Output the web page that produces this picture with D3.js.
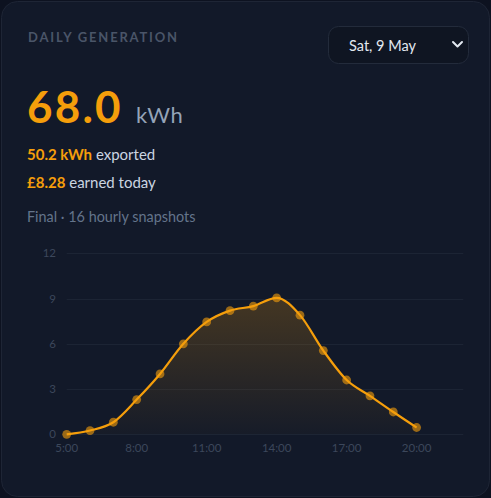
<!DOCTYPE html>
<html>
<head>
<meta charset="utf-8">
<script src="https://cdn.jsdelivr.net/npm/d3@7"></script>
<style>
  html, body { margin: 0; padding: 0; background: #0d1220; }
  svg { display: block; font-family: Lato, "Noto Sans", sans-serif; }
</style>
</head>
<body>
<div id="content"></div>
<script>
// hourly snapshots (hour of day, kWh)
var hours = [5, 6, 7, 8, 9, 10, 11, 12, 13, 14, 15, 16, 17, 18, 19, 20];
var kwh = [0, 0.25, 0.8, 2.3, 4.0, 6.0, 7.45, 8.2, 8.5, 9.05, 7.9, 5.55, 3.6, 2.55, 1.48, 0.45];
var yTicks = [0, 3, 6, 9, 12];
var xTicks = [5, 8, 11, 14, 17, 20];

var title = 'DAILY GENERATION';
var dateLabel = 'Sat, 9 May';
var total = '68.0';
var unit = 'kWh';
var exported = '50.2 kWh';
var earned = '£8.28';
var note = 'Final · 16 hourly snapshots';

var W = 491, H = 498;
var orange = '#f59e0b';

var svg = d3.select('#content').append('svg')
    .attr('width', W)
    .attr('height', H);

// card
svg.append('rect')
    .attr('x', 1.5).attr('y', 1.5)
    .attr('width', W - 3).attr('height', H - 3)
    .attr('rx', 16)
    .attr('fill', '#121929')
    .attr('stroke', '#1e2535');

// header
svg.append('text')
    .attr('x', 28).attr('y', 42)
    .attr('fill', '#4a5568')
    .style('font-size', '13px')
    .style('font-weight', 700)
    .style('letter-spacing', '1.8px')
    .text(title);

// date select
svg.append('rect')
    .attr('x', 328.5).attr('y', 26.5)
    .attr('width', 140).attr('height', 37)
    .attr('rx', 10)
    .attr('fill', '#0f1522')
    .attr('stroke', '#232b3b');
svg.append('text')
    .attr('x', 349).attr('y', 51)
    .attr('fill', '#e2e8f0')
    .style('font-size', '14.5px')
    .text(dateLabel);
svg.append('path')
    .attr('d', 'M453,42 L457.5,46.5 L462,42')
    .attr('fill', 'none')
    .attr('stroke', '#e2e8f0')
    .attr('stroke-width', 2)
    .attr('stroke-linecap', 'round')
    .attr('stroke-linejoin', 'round');

// big number
svg.append('text')
    .attr('x', 27).attr('y', 123)
    .attr('fill', orange)
    .style('font-size', '44px')
    .style('font-weight', 700)
    .style('letter-spacing', '2.2px')
    .text(total);
svg.append('text')
    .attr('x', 136).attr('y', 123)
    .attr('fill', '#94a3b8')
    .style('font-size', '22px')
    .style('letter-spacing', '0.5px')
    .text(unit);

var line1 = svg.append('text')
    .attr('x', 27).attr('y', 160)
    .style('font-size', '15px');
line1.append('tspan').attr('fill', orange).style('font-weight', 700).text(exported);
line1.append('tspan').attr('fill', '#cbd5e1').text(' exported');

var line2 = svg.append('text')
    .attr('x', 27).attr('y', 188)
    .style('font-size', '15px');
line2.append('tspan').attr('fill', orange).style('font-weight', 700).text(earned);
line2.append('tspan').attr('fill', '#cbd5e1').text(' earned today');

svg.append('text')
    .attr('x', 27).attr('y', 222)
    .attr('fill', '#64748b')
    .style('font-size', '14.4px')
    .text(note);

// chart
var x = d3.scaleLinear().domain([5, 22]).range([66.7, 463.3]);
var y = d3.scaleLinear().domain([0, 12]).range([434.3, 253.3]);

var data = hours.map(function(h, i) { return {h: h, v: kwh[i]}; });

var grad = svg.append('defs').append('linearGradient')
    .attr('id', 'fillGrad')
    .attr('x1', 0).attr('y1', 0).attr('x2', 0).attr('y2', 1);
grad.append('stop').attr('offset', '0%').attr('stop-color', orange).attr('stop-opacity', 0.22);
grad.append('stop').attr('offset', '100%').attr('stop-color', orange).attr('stop-opacity', 0.02);

// gridlines
svg.append('g')
    .selectAll('line')
    .data(yTicks)
    .enter().append('line')
    .attr('x1', x(5)).attr('x2', x(22))
    .attr('y1', function(d) { return Math.round(y(d)) + 0.5; })
    .attr('y2', function(d) { return Math.round(y(d)) + 0.5; })
    .attr('stroke', '#1c2434')
    .attr('stroke-width', 1);

// y labels
svg.append('g')
    .selectAll('text')
    .data(yTicks)
    .enter().append('text')
    .attr('x', 56)
    .attr('y', function(d) { return y(d) + 4; })
    .attr('text-anchor', 'end')
    .attr('fill', '#3c475b')
    .style('font-size', '11.5px')
    .text(function(d) { return d; });

// x labels
svg.append('g')
    .selectAll('text')
    .data(xTicks)
    .enter().append('text')
    .attr('x', function(d) { return x(d); })
    .attr('y', 452)
    .attr('text-anchor', 'middle')
    .attr('fill', '#3c475b')
    .style('font-size', '11.5px')
    .text(function(d) { return d + ':00'; });

var area = d3.area()
    .x(function(d) { return x(d.h); })
    .y0(y(0))
    .y1(function(d) { return y(d.v); })
    .curve(d3.curveMonotoneX);

var line = d3.line()
    .x(function(d) { return x(d.h); })
    .y(function(d) { return y(d.v); })
    .curve(d3.curveMonotoneX);

svg.append('path')
    .datum(data)
    .attr('fill', 'url(#fillGrad)')
    .attr('d', area);

svg.append('path')
    .datum(data)
    .attr('fill', 'none')
    .attr('stroke', orange)
    .attr('stroke-width', 2.2)
    .attr('d', line);

svg.append('g')
    .selectAll('circle')
    .data(data)
    .enter().append('circle')
    .attr('cx', function(d) { return x(d.h); })
    .attr('cy', function(d) { return y(d.v); })
    .attr('r', 4.4)
    .attr('fill', orange)
    .attr('fill-opacity', 0.6);
</script>
</body>
</html>
